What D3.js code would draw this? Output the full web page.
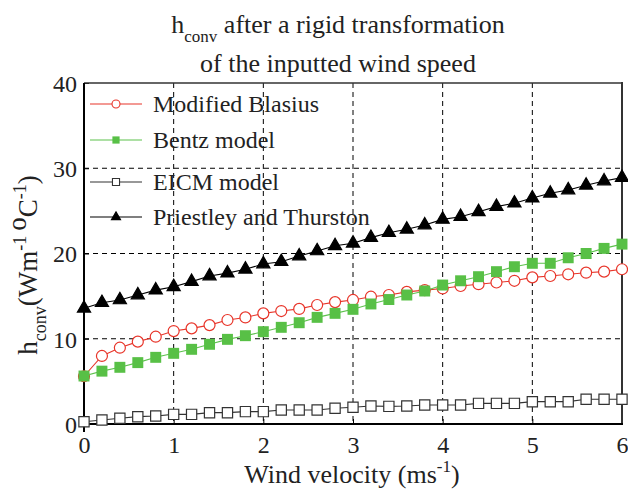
<!DOCTYPE html>
<html><head><meta charset="utf-8">
<script src="https://cdn.jsdelivr.net/npm/d3@7"></script>
<style>body{margin:0;background:#fff}svg{display:block;font-family:"Liberation Serif","Times New Roman",serif}</style>
</head><body><svg id="c" width="628" height="490"></svg>
<script>
const windSpeed = [0,0.2,0.4,0.6,0.8,1,1.2,1.4,1.6,1.8,2,2.2,2.4,2.6,2.8,3,3.2,3.4,3.6,3.8,4,4.2,4.4,4.6,4.8,5,5.2,5.4,5.6,5.8,6];
const modifiedBlasius = [5.6,7.98,8.95,9.66,10.24,10.9,11.22,11.6,12.2,12.5,12.98,13.25,13.5,13.96,14.3,14.55,14.93,15.13,15.5,15.7,15.9,16.19,16.4,16.6,16.8,17.2,17.36,17.56,17.75,17.87,18.15];
const bentzModel = [5.63,6.2,6.65,7.2,7.82,8.29,8.76,9.35,9.93,10.36,10.83,11.34,11.88,12.51,12.98,13.45,14.08,14.6,15.13,15.6,16.3,16.8,17.28,17.87,18.45,18.85,18.85,19.5,20.0,20.6,21.1];
const eicmModel = [0.27,0.47,0.67,0.86,0.94,1.13,1.13,1.33,1.33,1.45,1.45,1.64,1.64,1.64,1.84,1.96,2.11,2.07,2.11,2.23,2.23,2.23,2.42,2.42,2.42,2.62,2.62,2.62,2.9,2.9,2.9];
const priestleyThurston = [13.57,14.23,14.55,15.13,15.7,16.1,16.7,17.36,17.7,18.15,18.77,19.04,19.7,20.3,20.9,21.2,21.86,22.44,22.84,23.34,24.0,24.32,24.9,25.5,25.9,26.5,27.06,27.45,28.0,28.5,28.9];
const seriesNames = ["Modified Blasius","Bentz model","EICM model","Priestley and Thurston"];
const xTicks = [0,1,2,3,4,5,6];
const yTicks = [0,10,20,30,40];

const svg = d3.select("#c");
const L=84,R=622,T=83,B=424;
const x = d3.scaleLinear().domain([0,6]).range([L,R]);
const y = d3.scaleLinear().domain([0,40]).range([B,T]);
const FS = 24;

// grid
const g = svg.append("g");
g.selectAll("line.vg").data(xTicks.slice(1,-1)).join("line")
  .attr("x1",d=>x(d)).attr("x2",d=>x(d)).attr("y1",T).attr("y2",B)
  .attr("stroke","#000").attr("stroke-width",1).attr("stroke-dasharray","5,4");
g.selectAll("line.hg").data(yTicks.slice(1,-1)).join("line")
  .attr("x1",L).attr("x2",R).attr("y1",d=>y(d)).attr("y2",d=>y(d))
  .attr("stroke","#000").attr("stroke-width",1).attr("stroke-dasharray","5,4");

// axes
const xAx = svg.append("g").attr("transform",`translate(0,${B})`)
  .call(d3.axisBottom(x).tickValues(xTicks).tickSize(-5).tickPadding(12).tickFormat(d3.format("d")));
const yAx = svg.append("g").attr("transform",`translate(${L},0)`)
  .call(d3.axisLeft(y).tickValues(yTicks).tickSize(-5).tickPadding(7).tickFormat(d3.format("d")));
[xAx,yAx].forEach(a=>{
  a.select(".domain").remove();
  a.selectAll("text").attr("font-size",FS).attr("font-family","Liberation Serif").attr("fill","#222");
  a.selectAll("line").attr("stroke","#000");
});
yAx.selectAll("text").attr("dy","0.35em");
xAx.selectAll("text").attr("dy","0.71em");
// box
svg.append("line").attr("x1",L).attr("x2",R).attr("y1",T).attr("y2",T).attr("stroke","#333").attr("stroke-width",1.5);
svg.append("line").attr("x1",R).attr("x2",R).attr("y1",T-1).attr("y2",B).attr("stroke","#333").attr("stroke-width",2);
svg.append("line").attr("x1",L).attr("x2",L).attr("y1",T).attr("y2",B+8).attr("stroke","#000").attr("stroke-width",2);
svg.append("line").attr("x1",L).attr("x2",R+1).attr("y1",B).attr("y2",B).attr("stroke","#000").attr("stroke-width",2);

const series = [
  {name:seriesNames[0], vals:modifiedBlasius, color:"#e8352a", sym:d3.symbolCircle, size:95, fill:"#fff", lsize:50},
  {name:seriesNames[1], vals:bentzModel, color:"#5cc24c", sym:d3.symbolSquare, size:120, fill:"#58c046", lsize:52, nostroke:true},
  {name:seriesNames[2], vals:eicmModel, color:"#333", sym:d3.symbolSquare, size:105, fill:"#fff", lsize:50},
  {name:seriesNames[3], vals:priestleyThurston, color:"#000", sym:d3.symbolTriangle, size:75, fill:"#000", lsize:36},
];
const line = d3.line().x((d,i)=>x(windSpeed[i])).y(d=>y(d));
[2,3,0,1].forEach(k=>{
  const s = series[k];
  const gg = svg.append("g");
  gg.append("path").attr("d",line(s.vals)).attr("fill","none").attr("stroke",s.color).attr("stroke-width",1.1);
  gg.selectAll("path.m").data(s.vals).join("path").attr("class","m")
    .attr("transform",(d,i)=>`translate(${x(windSpeed[i])},${y(d)})`)
    .attr("d",d3.symbol(s.sym,s.size)())
    .attr("fill",s.fill).attr("stroke",s.nostroke?"none":s.color).attr("stroke-width",1.2);
});

// legend
const legY = [104,140,182,217];
series.forEach((s,i)=>{
  const lg = svg.append("g").attr("transform",`translate(0,${legY[i]})`);
  lg.append("line").attr("x1",90).attr("x2",142).attr("y1",0).attr("y2",0).attr("stroke",s.color).attr("stroke-width",1.1);
  lg.append("path").attr("transform","translate(116,0)").attr("d",d3.symbol(s.sym,s.lsize)())
    .attr("fill",s.fill).attr("stroke",s.nostroke?"none":s.color).attr("stroke-width",1.1);
  lg.append("text").attr("x",153).attr("y",0).attr("dy","0.35em").attr("font-size",FS).attr("fill","#222").text(s.name);
});

// title
const t1 = svg.append("text").attr("x",338).attr("y",33).attr("text-anchor","middle").attr("font-size",26).attr("fill","#222");
t1.append("tspan").text("h");
t1.append("tspan").attr("font-size",17).attr("dy",9).text("conv");
t1.append("tspan").attr("dy",-9).text(" after a rigid transformation");
svg.append("text").attr("x",338).attr("y",72).attr("text-anchor","middle").attr("font-size",26).attr("fill","#222").text("of the inputted wind speed");

// x label
const xl = svg.append("text").attr("x",352).attr("y",483).attr("text-anchor","middle").attr("font-size",26).attr("fill","#222");
xl.append("tspan").text("Wind velocity (ms");
xl.append("tspan").attr("font-size",17).attr("dy",-11).text("-1");
xl.append("tspan").attr("dy",11).text(")");

// y label
const yl = svg.append("text").attr("transform","translate(37,265) rotate(-90)").attr("text-anchor","middle").attr("font-size",27).attr("fill","#222");
yl.append("tspan").text("h");
yl.append("tspan").attr("font-size",18).attr("dy",9).text("conv");
yl.append("tspan").attr("dy",-9).text("(Wm");
yl.append("tspan").attr("font-size",18).attr("dy",-11).text("-1");
yl.append("tspan").attr("dx",5).text("o");
yl.append("tspan").attr("dy",11).text("C");
yl.append("tspan").attr("font-size",18).attr("dy",-11).text("-1");
yl.append("tspan").attr("dy",11).text(")");
</script></body></html>
